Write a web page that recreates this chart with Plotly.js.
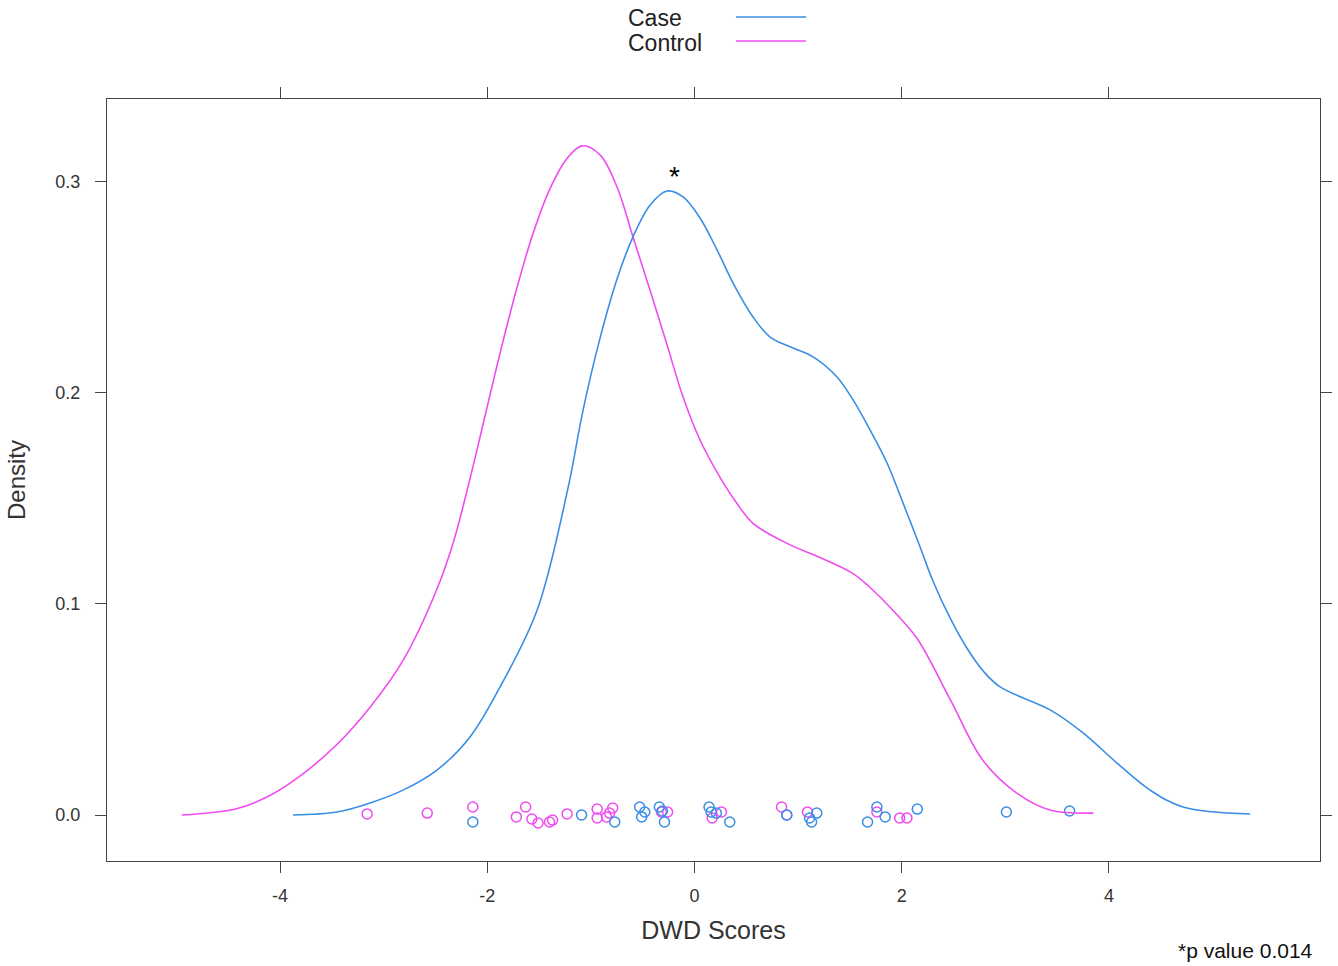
<!DOCTYPE html>
<html>
<head>
<meta charset="utf-8">
<script src="https://cdn.plot.ly/plotly-3.0.1.min.js"></script>
<style>html,body{margin:0;padding:0;background:#fff;}#chart{width:1338px;height:966px;}</style>
</head>
<body>
<div id="chart"></div>
<script>
// Density curve of Case group
const caseCurveX = [-3.875,-3.451,-3.132,-2.814,-2.486,-2.167,-1.877,-1.52,-1.221,-1.076,-0.912,-0.748,-0.594,-0.430,-0.265,-0.111,0.053,0.217,0.372,0.565,0.729,0.951,1.144,1.375,1.530,1.694,1.858,2.012,2.177,2.30,2.46,2.63,2.79,2.949,3.432,3.750,4.078,4.397,4.715,5.362];
const caseCurveY = [0.0,0.0014,0.0057,0.0118,0.0213,0.0370,0.0607,0.0970,0.1550,0.1919,0.2260,0.2540,0.2740,0.2890,0.2957,0.2929,0.2829,0.2678,0.2521,0.2360,0.2265,0.2213,0.2171,0.2076,0.1967,0.1825,0.1668,0.1479,0.1270,0.1110,0.0940,0.0790,0.0680,0.0607,0.0498,0.0389,0.0246,0.0118,0.0038,0.0005];
// Density curve of Control group
const controlCurveX = [-4.95,-4.42,-4.10,-3.78,-3.45,-3.13,-2.81,-2.49,-2.33,-2.17,-2.00,-1.877,-1.713,-1.559,-1.395,-1.231,-1.086,-0.912,-0.748,-0.594,-0.430,-0.265,-0.111,0.053,0.246,0.410,0.565,0.893,1.211,1.530,1.694,1.916,2.15,2.47,2.78,3.11,3.43,3.85];
const controlCurveY = [0.0,0.0030,0.0092,0.0195,0.0335,0.0512,0.0735,0.1066,0.1289,0.1588,0.1937,0.2189,0.2501,0.2755,0.2968,0.3111,0.3171,0.3128,0.2976,0.2739,0.2488,0.2227,0.1981,0.1777,0.1600,0.1476,0.1382,0.1287,0.1220,0.1144,0.1078,0.0969,0.0835,0.0545,0.0261,0.0104,0.0024,0.0009];
// Jittered raw observations
const casePointsX = [-2.14,-1.09,-0.77,-0.53,-0.51,-0.48,-0.34,-0.31,-0.29,0.14,0.16,0.21,0.34,0.89,1.11,1.13,1.18,1.67,1.76,1.84,2.15,3.01,3.62];
const casePointsY = [-0.0033,0.0,-0.0033,0.0038,-0.0009,0.0014,0.0038,0.0019,-0.0033,0.0038,0.0014,0.0009,-0.0033,0.0,-0.0014,-0.0033,0.0009,-0.0033,0.0038,-0.0009,0.0028,0.0014,0.0019];
const controlPointsX = [-3.16,-2.58,-2.14,-1.72,-1.63,-1.57,-1.51,-1.40,-1.37,-1.23,-0.94,-0.94,-0.85,-0.82,-0.79,-0.32,-0.26,0.17,0.26,0.84,0.89,1.09,1.76,1.98,2.05];
const controlPointsY = [0.0005,0.0009,0.0038,-0.0009,0.0038,-0.0019,-0.0038,-0.0033,-0.0024,0.0005,0.0028,-0.0014,-0.0009,0.0009,0.0033,0.0014,0.0014,-0.0014,0.0014,0.0038,0.0,0.0014,0.0014,-0.0014,-0.0014];
const groupNames = ["Case","Control"];
const xTickVals = [-4,-2,0,2,4];
const xTickText = ["-4","-2","0","2","4"];
const yTickVals = [0.0,0.1,0.2,0.3];
const yTickText = ["0.0","0.1","0.2","0.3"];

const blue = '#3a8ee6';
const magenta = '#f04cf0';
const FONT = 'Liberation Sans, Arial, sans-serif';

const traces = [
  {x: controlPointsX, y: controlPointsY, mode:'markers', type:'scatter', showlegend:false,
   marker:{symbol:'circle-open', size:10, color:magenta, line:{width:1.5, color:magenta}}, hoverinfo:'x'},
  {x: casePointsX, y: casePointsY, mode:'markers', type:'scatter', showlegend:false,
   marker:{symbol:'circle-open', size:10, color:blue, line:{width:1.5, color:blue}}, hoverinfo:'x'},
  {x: controlCurveX, y: controlCurveY, mode:'lines', type:'scatter', name:groupNames[1], showlegend:false,
   line:{color:magenta, width:1.6, shape:'spline', smoothing:1}},
  {x: caseCurveX, y: caseCurveY, mode:'lines', type:'scatter', name:groupNames[0], showlegend:false,
   line:{color:blue, width:1.6, shape:'spline', smoothing:1}}
];

const axisCommon = {
  showline:true, mirror:'ticks', linecolor:'#444', linewidth:1.3,
  ticks:'outside', ticklen:11, tickwidth:1.3, tickcolor:'#444',
  showgrid:false, zeroline:false,
  tickfont:{family:FONT, size:18, color:'#333'},
  tickmode:'array'
};

const layout = {
  width:1338, height:966,
  margin:{l:107, r:18, t:99, b:105},
  paper_bgcolor:'#fff', plot_bgcolor:'#fff',
  showlegend:false,
  xaxis: Object.assign({}, axisCommon, {
    range:[-5.671, 6.037], tickvals:xTickVals, ticktext:xTickText, ticklabelstandoff:7,
    title:{text:'DWD Scores', standoff:16, font:{family:FONT, size:25, color:'#333'}}
  }),
  yaxis: Object.assign({}, axisCommon, {
    range:[-0.0218, 0.3393], tickvals:yTickVals, ticktext:yTickText, ticklabelstandoff:11,
    title:{text:'Density', standoff:22, font:{family:FONT, size:24, color:'#333'}}
  }),
  annotations:[
    {x:-0.19, y:0.3025, xref:'x', yref:'y', text:'*', showarrow:false, font:{family:FONT, size:28, color:'#000'}, yanchor:'middle'},
    {x:0.4279, y:1.1063, xref:'paper', yref:'paper', xanchor:'left', yanchor:'middle', text:groupNames[0], showarrow:false, font:{family:FONT, size:23, color:'#222'}},
    {x:0.4279, y:1.0735, xref:'paper', yref:'paper', xanchor:'left', yanchor:'middle', text:groupNames[1], showarrow:false, font:{family:FONT, size:23, color:'#222'}},
    {x:0.996, y:-0.117, xref:'paper', yref:'paper', xanchor:'right', yanchor:'middle', text:'*p value 0.014', showarrow:false, font:{family:FONT, size:21, color:'#111'}}
  ],
  shapes:[
    {type:'line', xref:'paper', yref:'paper', x0:0.5185, x1:0.5763, y0:1.1076, y1:1.1076, line:{color:blue, width:1.6}},
    {type:'line', xref:'paper', yref:'paper', x0:0.5185, x1:0.5763, y0:1.0761, y1:1.0761, line:{color:magenta, width:1.6}}
  ]
};

Plotly.newPlot('chart', traces, layout, {displayModeBar:false, responsive:false});
</script>
</body>
</html>
